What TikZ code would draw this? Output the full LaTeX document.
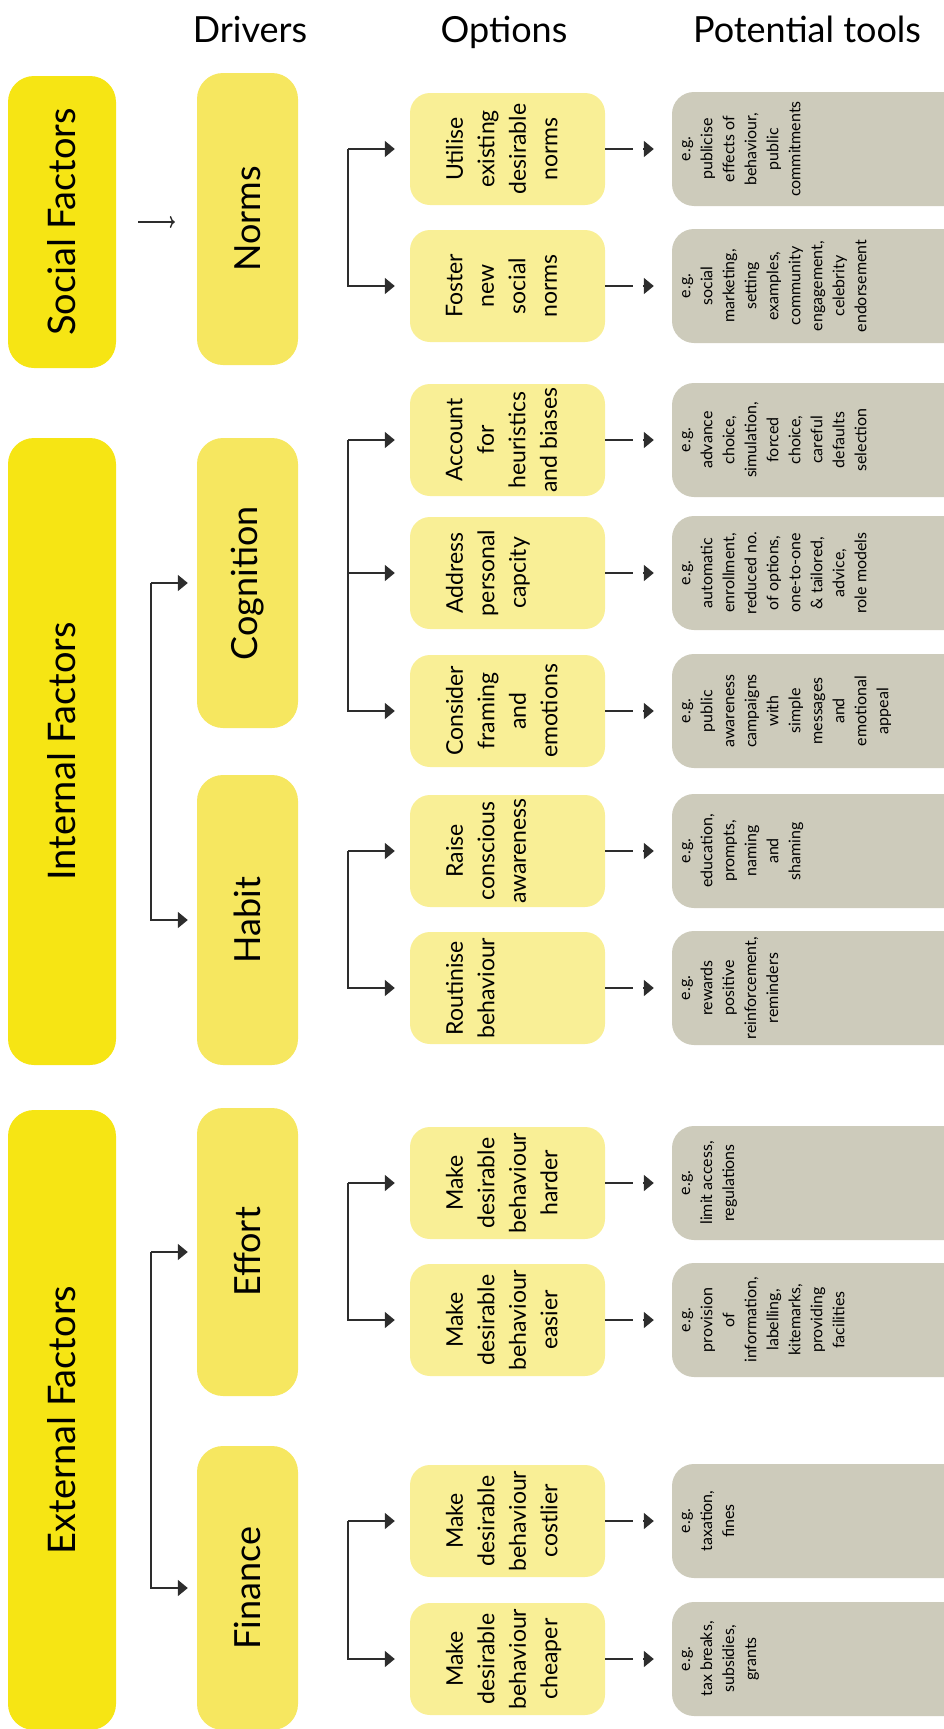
\documentclass[tikz,border=0pt]{standalone}
\usepackage{fontspec}
\setmainfont{Lato}
\usepackage{xcolor}
\usetikzlibrary{arrows.meta,positioning}

\definecolor{factorfill}{RGB}{246,229,20}
\definecolor{driverfill}{RGB}{246,231,96}
\definecolor{optionfill}{RGB}{249,239,150}
\definecolor{toolfill}{RGB}{205,203,187}
\definecolor{linkgray}{RGB}{45,45,45}

\begin{document}
\begin{tikzpicture}[
    x=1pt, y=-1pt,
    factor/.style={rectangle, rounded corners=26pt, fill=factorfill, minimum width=108pt, inner sep=0pt},
    driver/.style={rectangle, rounded corners=26pt, fill=driverfill, minimum width=101pt, inner sep=0pt},
    option/.style={rectangle, rounded corners=20pt, fill=optionfill, minimum width=195pt, minimum height=112pt, inner sep=0pt},
    tool/.style={rectangle, rounded corners=22pt, fill=toolfill, minimum width=330pt, minimum height=114pt, inner sep=0pt},
    colhead/.style={font=\fontsize{36}{40}\selectfont, anchor=base, inner sep=0pt},
    vtext/.style={rotate=90, align=center, inner sep=0pt},
    factortext/.style={vtext, font=\fontsize{38}{44}\selectfont},
    drivertext/.style={vtext, font=\fontsize{36}{42}\selectfont},
    optiontext/.style={vtext, anchor=north, font=\fontsize{23}{31.5}\selectfont},
    tooltext/.style={vtext, anchor=north, font=\fontsize{16}{22}\selectfont},
    link/.style={draw=linkgray, line width=1.8pt},
    arr/.style={link, -{Triangle[length=10pt,width=16pt]}}
]
\useasboundingbox (0,0) rectangle (944,1729);
\clip (0,0) rectangle (944,1729);

% column headings
\node[colhead] (hdrivers) at (250,42) {Drivers};
\node[colhead] (hoptions) at (504,42) {Options};
\node[colhead] (htools) at (807,42) {Potential tools};

% factors
\node[factor, minimum height=292pt] (social) at (62,222) {};
\node[factor, minimum height=627pt] (internal) at (62,751.5) {};
\node[factor, minimum height=620pt] (external) at (62,1420) {};
\node[factortext] (socialtxt) at (social) {Social Factors};
\node[factortext] (internaltxt) at (internal) {Internal Factors};
\node[factortext] (externaltxt) at (external) {External Factors};

% drivers
\node[driver, minimum height=292pt] (norms) at (247.5,219) {};
\node[driver, minimum height=290pt] (cognition) at (247.5,583) {};
\node[driver, minimum height=290pt] (habit) at (247.5,920) {};
\node[driver, minimum height=288pt] (effort) at (247.5,1252) {};
\node[driver, minimum height=284pt] (finance) at (247.5,1588) {};
\node[drivertext] (normstxt) at (norms) {Norms};
\node[drivertext] (cognitiontxt) at (cognition) {Cognition};
\node[drivertext] (habittxt) at (habit) {Habit};
\node[drivertext] (efforttxt) at (effort) {Effort};
\node[drivertext] (financetxt) at (finance) {Finance};

% options
\node[option] (o1) at (507.5,149) {};
\node[option] (o2) at (507.5,286) {};
\node[option] (o3) at (507.5,440) {};
\node[option] (o4) at (507.5,573) {};
\node[option] (o5) at (507.5,711) {};
\node[option] (o6) at (507.5,851) {};
\node[option] (o7) at (507.5,988) {};
\node[option] (o8) at (507.5,1183) {};
\node[option] (o9) at (507.5,1320) {};
\node[option] (o10) at (507.5,1521) {};
\node[option] (o11) at (507.5,1659) {};
\node[optiontext] (o1txt) at ([xshift=36pt]o1.west) {Utilise\\existing\\desirable\\norms};
\node[optiontext] (o2txt) at ([xshift=36pt]o2.west) {Foster\\new\\social\\norms};
\node[optiontext] (o3txt) at ([xshift=36pt]o3.west) {Account\\for\\heuristics\\and biases};
\node[optiontext] (o4txt) at ([xshift=36pt]o4.west) {Address\\personal\\capcity};
\node[optiontext] (o5txt) at ([xshift=36pt]o5.west) {Consider\\framing\\and\\emotions};
\node[optiontext] (o6txt) at ([xshift=36pt]o6.west) {Raise\\conscious\\awareness};
\node[optiontext] (o7txt) at ([xshift=36pt]o7.west) {Routinise\\behaviour};
\node[optiontext] (o8txt) at ([xshift=36pt]o8.west) {Make\\desirable\\behaviour\\harder};
\node[optiontext] (o9txt) at ([xshift=36pt]o9.west) {Make\\desirable\\behaviour\\easier};
\node[optiontext] (o10txt) at ([xshift=36pt]o10.west) {Make\\desirable\\behaviour\\costlier};
\node[optiontext] (o11txt) at ([xshift=36pt]o11.west) {Make\\desirable\\behaviour\\cheaper};

% potential tools
\node[tool] (t1) at (837,149) {};
\node[tool] (t2) at (837,286) {};
\node[tool] (t3) at (837,440) {};
\node[tool] (t4) at (837,573) {};
\node[tool] (t5) at (837,711) {};
\node[tool] (t6) at (837,851) {};
\node[tool] (t7) at (837,988) {};
\node[tool] (t8) at (837,1183) {};
\node[tool] (t9) at (837,1320) {};
\node[tool] (t10) at (837,1521) {};
\node[tool] (t11) at (837,1659) {};
\node[tooltext] (t1txt) at ([xshift=10pt]t1.west) {e.g.\\publicise\\effects of\\behaviour,\\public\\commitments};
\node[tooltext] (t2txt) at ([xshift=10pt]t2.west) {e.g.\\social\\marketing,\\setting\\examples,\\community\\engagement,\\celebrity\\endorsement};
\node[tooltext] (t3txt) at ([xshift=10pt]t3.west) {e.g.\\advance\\choice,\\simulation,\\forced\\choice,\\careful\\defaults\\selection};
\node[tooltext] (t4txt) at ([xshift=10pt]t4.west) {e.g.\\automatic\\enrollment,\\reduced no.\\of options,\\one-to-one\\\& tailored,\\advice,\\role models};
\node[tooltext] (t5txt) at ([xshift=10pt]t5.west) {e.g.\\public\\awareness\\campaigns\\with\\simple\\messages\\and\\emotional\\appeal};
\node[tooltext] (t6txt) at ([xshift=10pt]t6.west) {e.g.\\education,\\prompts,\\naming\\and\\shaming};
\node[tooltext] (t7txt) at ([xshift=10pt]t7.west) {e.g.\\rewards\\positive\\reinforcement,\\reminders};
\node[tooltext] (t8txt) at ([xshift=10pt]t8.west) {e.g.\\limit access,\\regulations};
\node[tooltext] (t9txt) at ([xshift=10pt]t9.west) {e.g.\\provision\\of\\information,\\labelling,\\kitemarks,\\providing\\facilities};
\node[tooltext] (t10txt) at ([xshift=10pt]t10.west) {e.g.\\taxation,\\fines};
\node[tooltext] (t11txt) at ([xshift=10pt]t11.west) {e.g.\\tax breaks,\\subsidies,\\grants};

% factor -> driver
\coordinate (fspine) at (151,0);
\coordinate (ospine) at (348,0);
\draw[link, line width=1.4pt, -{To[length=5pt,width=12pt]}, shorten <=22pt, shorten >=22pt] (social.east) -- (social.east -| norms.west);
\draw[arr, shorten >=9pt] (cognition.west -| fspine) -- (cognition.west);
\draw[arr, shorten >=9pt] (cognition.west -| fspine) |- (habit.west);
\draw[arr, shorten >=9pt] (effort.west -| fspine) -- (effort.west);
\draw[arr, shorten >=9pt] (effort.west -| fspine) |- (finance.west);

% driver -> options
\draw[arr, shorten >=15pt] (o1.west -| ospine) -- (o1.west);
\draw[arr, shorten >=15pt] (o1.west -| ospine) |- (o2.west);
\draw[arr, shorten >=15pt] (o3.west -| ospine) -- (o3.west);
\draw[arr, shorten >=15pt] (o3.west -| ospine) |- (o4.west);
\draw[arr, shorten >=15pt] (o3.west -| ospine) |- (o5.west);
\draw[arr, shorten >=15pt] (o6.west -| ospine) -- (o6.west);
\draw[arr, shorten >=15pt] (o6.west -| ospine) |- (o7.west);
\draw[arr, shorten >=15pt] (o8.west -| ospine) -- (o8.west);
\draw[arr, shorten >=15pt] (o8.west -| ospine) |- (o9.west);
\draw[arr, shorten >=15pt] (o10.west -| ospine) -- (o10.west);
\draw[arr, shorten >=15pt] (o10.west -| ospine) |- (o11.west);

% option -> tool (line, gap, head)
\draw[link, shorten >=39pt] (o1.east) -- (t1.west);
\draw[arr, shorten <=38pt, shorten >=18pt] (o1.east) -- (t1.west);
\draw[link, shorten >=39pt] (o2.east) -- (t2.west);
\draw[arr, shorten <=38pt, shorten >=18pt] (o2.east) -- (t2.west);
\draw[link, shorten >=39pt] (o3.east) -- (t3.west);
\draw[arr, shorten <=38pt, shorten >=18pt] (o3.east) -- (t3.west);
\draw[link, shorten >=39pt] (o4.east) -- (t4.west);
\draw[arr, shorten <=38pt, shorten >=18pt] (o4.east) -- (t4.west);
\draw[link, shorten >=39pt] (o5.east) -- (t5.west);
\draw[arr, shorten <=38pt, shorten >=18pt] (o5.east) -- (t5.west);
\draw[link, shorten >=39pt] (o6.east) -- (t6.west);
\draw[arr, shorten <=38pt, shorten >=18pt] (o6.east) -- (t6.west);
\draw[link, shorten >=39pt] (o7.east) -- (t7.west);
\draw[arr, shorten <=38pt, shorten >=18pt] (o7.east) -- (t7.west);
\draw[link, shorten >=39pt] (o8.east) -- (t8.west);
\draw[arr, shorten <=38pt, shorten >=18pt] (o8.east) -- (t8.west);
\draw[link, shorten >=39pt] (o9.east) -- (t9.west);
\draw[arr, shorten <=38pt, shorten >=18pt] (o9.east) -- (t9.west);
\draw[link, shorten >=39pt] (o10.east) -- (t10.west);
\draw[arr, shorten <=38pt, shorten >=18pt] (o10.east) -- (t10.west);
\draw[link, shorten >=39pt] (o11.east) -- (t11.west);
\draw[arr, shorten <=38pt, shorten >=18pt] (o11.east) -- (t11.west);
\end{tikzpicture}
\end{document}
